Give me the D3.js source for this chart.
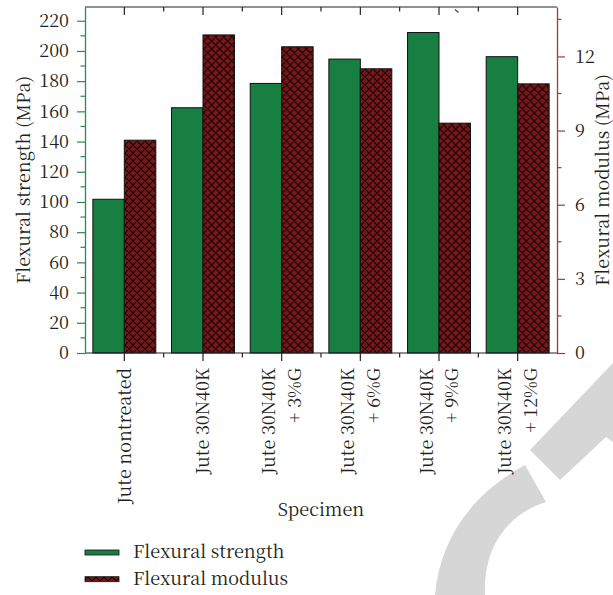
<!DOCTYPE html>
<html>
<head>
<meta charset="utf-8">
<script src="https://cdn.jsdelivr.net/npm/d3@7"></script>
<style>
  html, body { margin: 0; padding: 0; background: #fff; }
  svg { display: block; }
</style>
</head>
<body>
<svg id="chart" width="613" height="595"></svg>
<script>
// Specimen groups (a " + " splits a label over two lines)
const categories = [
  "Jute nontreated",
  "Jute 30N40K",
  "Jute 30N40K + 3%G",
  "Jute 30N40K + 6%G",
  "Jute 30N40K + 9%G",
  "Jute 30N40K + 12%G"
];
// Flexural strength, MPa (left axis)
const strength = [101.8, 162.4, 178.5, 194.6, 212.2, 196.2];
// Flexural modulus, on the right axis scale
const modulus = [8.61, 12.87, 12.39, 11.50, 9.30, 10.89];
const seriesNames = ["Flexural strength", "Flexural modulus"];
const leftTicks = [0, 20, 40, 60, 80, 100, 120, 140, 160, 180, 200, 220];
const leftMinor = d3.range(10, 229, 20);
const rightTicks = [0, 3, 6, 9, 12];
const rightMinor = [1.5, 4.5, 7.5, 10.5, 13.5];

const FONT = '"Noto Serif CJK SC", "Liberation Serif", serif';
const INK = "#231f20";
const FS = 18;

const svg = d3.select("#chart");
const plot = { left: 85, right: 557, top: 7, bottom: 353 };

const GREEN = "#167f41";
const RED = "#7a1518";
const GREEN_AXIS = "#2a8a4e";
const RED_AXIS = "#9e3b3b";

// cross-hatch fill for the modulus bars
const defs = svg.append("defs");
const pat = defs.append("pattern")
  .attr("id", "hatch")
  .attr("patternUnits", "userSpaceOnUse")
  .attr("width", 8).attr("height", 8)
  .attr("x", 0).attr("y", 1);
pat.append("rect").attr("width", 8).attr("height", 8).attr("fill", RED);
pat.append("path")
  .attr("d", "M-1,-1 L9,9 M9,-1 L-1,9 M-1,7 L1,9 M7,-1 L9,1 M7,9 L9,7 M-1,1 L1,-1")
  .attr("stroke", "#120404").attr("stroke-width", 1.1);

// decorative background swoosh, lower right
const deco = svg.append("g").attr("fill", "#d6d6d6");
deco.append("path")
  .attr("d", "M435,595 C440,540 470,495 525,465 L546,502 C505,515 483,550 485,595 Z");
deco.append("path")
  .attr("d", "M530,450 L613,363 L613,442 L606,437 L560,480 Z");

// scales
const x0 = d3.scaleBand().domain(categories).range([plot.left, plot.right]).padding(0);
const x1 = d3.scaleBand().domain(seriesNames)
  .range([x0.bandwidth() * 0.1, x0.bandwidth() * 0.9]).padding(0);
const yL = d3.scaleLinear().domain([0, 229.1]).range([plot.bottom, plot.top]);
const yR = d3.scaleLinear().domain([0, 14]).range([plot.bottom, plot.top]);

// bars
const groups = svg.append("g").selectAll("g")
  .data(categories.map((c, i) => ({ c, s: strength[i], m: modulus[i] })))
  .join("g")
  .attr("transform", d => `translate(${x0(d.c)},0)`);

groups.append("rect")
  .attr("x", x1(seriesNames[0]))
  .attr("width", x1.bandwidth())
  .attr("y", d => yL(d.s))
  .attr("height", d => yL(0) - yL(d.s))
  .attr("fill", GREEN)
  .attr("stroke", "#111").attr("stroke-width", 1);

groups.append("rect")
  .attr("x", x1(seriesNames[1]))
  .attr("width", x1.bandwidth())
  .attr("y", d => yR(d.m))
  .attr("height", d => yR(0) - yR(d.m))
  .attr("fill", "url(#hatch)")
  .attr("stroke", "#111").attr("stroke-width", 1);

// bottom axis: long ticks at group centres, short ticks between groups
const bx = svg.append("g");
bx.append("line")
  .attr("x1", plot.left).attr("x2", plot.right)
  .attr("y1", plot.bottom).attr("y2", plot.bottom)
  .attr("stroke", "#222").attr("stroke-width", 1.2);
const centers = categories.map(c => x0(c) + x0.bandwidth() / 2);
const bounds = categories.slice(1).map(c => x0(c));
bx.selectAll(".maj").data(centers).join("line")
  .attr("x1", d => d).attr("x2", d => d)
  .attr("y1", plot.bottom).attr("y2", plot.bottom + 8)
  .attr("stroke", "#222").attr("stroke-width", 1.2);
bx.selectAll(".min").data(bounds).join("line")
  .attr("x1", d => d).attr("x2", d => d)
  .attr("y1", plot.bottom).attr("y2", plot.bottom + 4.5)
  .attr("stroke", "#222").attr("stroke-width", 1.2);

// top frame with inward ticks
const tx = svg.append("g");
tx.append("line")
  .attr("x1", plot.left).attr("x2", plot.right)
  .attr("y1", plot.top).attr("y2", plot.top)
  .attr("stroke", "#222").attr("stroke-width", 1.2);
tx.selectAll(".maj").data(centers).join("line")
  .attr("x1", d => d).attr("x2", d => d)
  .attr("y1", plot.top).attr("y2", plot.top + 8)
  .attr("stroke", "#222").attr("stroke-width", 1.2);
tx.selectAll(".min").data(bounds).join("line")
  .attr("x1", d => d).attr("x2", d => d)
  .attr("y1", plot.top).attr("y2", plot.top + 4.5)
  .attr("stroke", "#222").attr("stroke-width", 1.2);
tx.append("line")
  .attr("x1", 455).attr("y1", 9.5).attr("x2", 458.5).attr("y2", 12.5)
  .attr("stroke", "#444").attr("stroke-width", 1.2);

// category labels, rotated
const lab = svg.append("g");
categories.forEach((c, i) => {
  const lines = c.split(" + ").map((s, k) => (k > 0 ? "+ " + s : s));
  const cx = centers[i];
  const lh = 25.7;
  const base = cx + 6.4 - (lines.length - 1) * lh / 2;
  const t = lab.append("text")
    .attr("font-size", FS)
    .attr("text-anchor", "end")
    .attr("fill", INK)
    .style("font-family", FONT)
    .attr("transform", `translate(0,368) rotate(-90)`);
  lines.forEach((ln, k) => {
    t.append("tspan").attr("x", 0).attr("y", base + k * lh).text(ln);
  });
});

// left axis (strength)
const la = svg.append("g")
  .attr("transform", `translate(${plot.left},0)`)
  .call(d3.axisLeft(yL).tickValues(leftTicks).tickSize(8).tickPadding(8).tickSizeOuter(0));
la.select(".domain").attr("stroke", GREEN_AXIS).attr("stroke-width", 1.3);
la.selectAll(".tick line").attr("stroke", GREEN_AXIS).attr("stroke-width", 1.2);
la.selectAll(".tick text").attr("font-size", FS).attr("fill", INK).style("font-family", FONT);
la.selectAll(".mn").data(leftMinor).join("line")
  .attr("x1", 0).attr("x2", -4.5)
  .attr("y1", d => yL(d)).attr("y2", d => yL(d))
  .attr("stroke", GREEN_AXIS).attr("stroke-width", 1.2);

// right axis (modulus)
const ra = svg.append("g")
  .attr("transform", `translate(${plot.right},0)`)
  .call(d3.axisRight(yR).tickValues(rightTicks).tickSize(8).tickPadding(10).tickSizeOuter(0));
ra.select(".domain").attr("stroke", RED_AXIS).attr("stroke-width", 1.3);
ra.selectAll(".tick line").attr("stroke", RED_AXIS).attr("stroke-width", 1.2);
ra.selectAll(".tick text").attr("font-size", FS).attr("fill", INK).style("font-family", FONT);
ra.selectAll(".mn").data(rightMinor).join("line")
  .attr("x1", 0).attr("x2", 4.5)
  .attr("y1", d => yR(d)).attr("y2", d => yR(d))
  .attr("stroke", RED_AXIS).attr("stroke-width", 1.2);

// axis titles
const midY = (plot.top + plot.bottom) / 2;
function label(sel) {
  return sel.attr("font-size", FS).attr("fill", INK).style("font-family", FONT);
}
label(svg.append("text"))
  .attr("text-anchor", "middle")
  .attr("transform", `translate(30,${midY}) rotate(-90)`)
  .text("Flexural strength (MPa)");
label(svg.append("text"))
  .attr("text-anchor", "middle")
  .attr("transform", `translate(608.5,${midY}) rotate(-90)`)
  .text("Flexural modulus (MPa)");
label(svg.append("text"))
  .attr("text-anchor", "middle")
  .attr("x", (plot.left + plot.right) / 2).attr("y", 516)
  .text("Specimen");

// legend
const legend = svg.append("g");
const fills = [GREEN, "url(#hatch)"];
seriesNames.forEach((name, i) => {
  const y = 550 + i * 26.7;
  legend.append("rect")
    .attr("x", 85).attr("y", y).attr("width", 34).attr("height", 5)
    .attr("fill", fills[i]).attr("stroke", "#111").attr("stroke-width", 0.8);
  label(legend.append("text"))
    .attr("x", 133).attr("y", y + 8)
    .text(name);
});
</script>
</body>
</html>
